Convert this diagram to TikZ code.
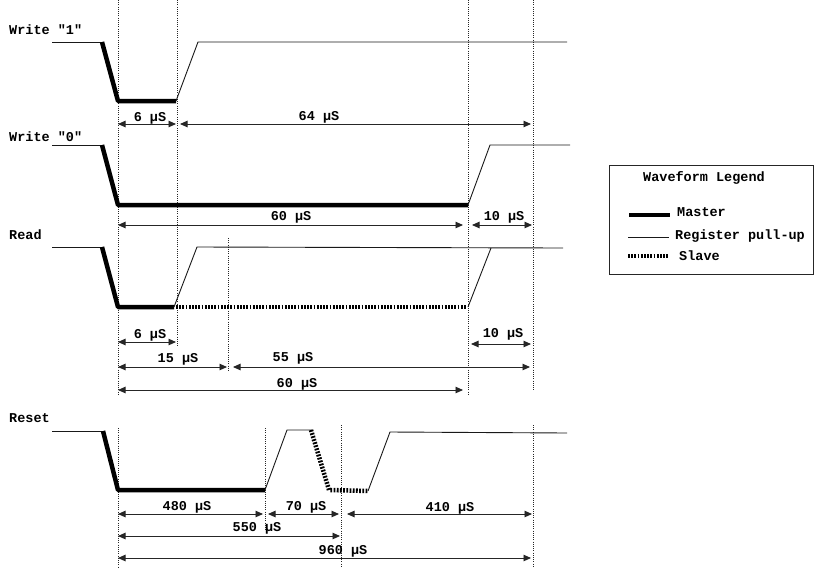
\documentclass[tikz,border=0pt]{standalone}
\usepackage{fontspec}
\setmonofont{Liberation Mono}
\usetikzlibrary{arrows.meta}
\begin{document}
\begin{tikzpicture}[x=1pt,y=-1pt,
  lbl/.style={font=\ttfamily\bfseries\fontsize{13.5}{15}\selectfont, inner sep=0pt, anchor=base},
  lblw/.style={lbl, anchor=base west},
  pullup/.style={line width=0.9pt, draw=black!90},
  master/.style={line width=4.5pt, line join=round},
  slave/.style={line width=4.5pt, dash pattern=on 1.8pt off 1.4pt},
  guide/.style={line width=0.6pt, dash pattern=on 1pt off 1.2pt, draw=black!85},
  dim/.style={line width=0.9pt, draw=black!85,
    {Triangle[length=7.5pt,width=6.5pt]}-{Triangle[length=7.5pt,width=6.5pt]}}
]
\useasboundingbox (0,0) rectangle (814,568);

% guide lines
\draw[guide] (118,0) -- (118,395);
\draw[guide] (177,0) -- (177,347);
\draw[guide] (468,0) -- (468,395);
\draw[guide] (533,0) -- (533,390);
\draw[guide] (228,238) -- (228,372);
\draw[guide] (118,428) -- (118,568);
\draw[guide] (265,428) -- (265,530);
\draw[guide] (341,425) -- (341,568);
\draw[guide] (533,425) -- (533,568);

% Write "1"
\node[lblw] (lw1) at (9,34) {Write "1"};
\draw[pullup] (52,42) -- (102,42);
\draw[master] (102,42) -- (118,101) -- (176,101);
\draw[pullup] (176,101) -- (198,42) -- (567,42);
\draw[dim] (118,124) -- (176,124);
\draw[dim] (180,124) -- (531,124);
\node[lbl] (d1) at (150,121) {6 µS};
\node[lbl] (d2) at (319,120) {64 µS};

% Write "0"
\node[lblw] (lw0) at (9,141) {Write "0"};
\draw[pullup] (52,145) -- (102,145);
\draw[master] (102,145) -- (118,205) -- (468,205);
\draw[pullup] (468,205) -- (490,145) -- (570,145);
\draw[dim] (118,225) -- (463,225);
\draw[dim] (472,225) -- (532,225);
\node[lbl] (d3) at (291,220) {60 µS};
\node[lbl] (d4) at (504,220) {10 µS};

% Read
\node[lblw] (lr) at (9,239) {Read};
\draw[pullup] (52,247) -- (102,247);
\draw[master] (102,247) -- (118,307) -- (174,307);
\draw[pullup] (174,307) -- (197,247) -- (563,248);
\draw[slave] (176,307) -- (466,307);
\draw[pullup] (468,307) -- (491,248);
\draw[dim] (118,342) -- (176,342);
\draw[dim] (471,344) -- (531,344);
\draw[dim] (118,367) -- (227,367);
\draw[dim] (233,367) -- (530,367);
\draw[dim] (118,390) -- (463,390);
\node[lbl] (d5) at (150,338) {6 µS};
\node[lbl] (d6) at (503,337) {10 µS};
\node[lbl] (d7) at (178,362) {15 µS};
\node[lbl] (d8) at (293,361) {55 µS};
\node[lbl] (d9) at (297,387) {60 µS};

% Reset
\node[lblw] (lrs) at (9,422) {Reset};
\draw[pullup] (52,431) -- (103,431);
\draw[master] (103,431) -- (118,490) -- (265,490);
\draw[pullup] (265,490) -- (287,430) -- (312,430);
\draw[slave] (311,430) -- (329,490) -- (368,491);
\draw[pullup] (368,491) -- (390,432) -- (567,433);
\draw[dim] (118,514) -- (263,514);
\draw[dim] (268,514) -- (339,514);
\draw[dim] (347,514) -- (532,514);
\draw[dim] (118,536) -- (340,536);
\draw[dim] (118,558) -- (531,558);
\node[lbl] (d10) at (187,510) {480 µS};
\node[lbl] (d11) at (306,510) {70 µS};
\node[lbl] (d12) at (450,511) {410 µS};
\node[lbl] (d13) at (257,531) {550 µS};
\node[lbl] (d14) at (343,554) {960 µS};

% Legend
\draw[line width=0.8pt, draw=black!85] (609,165) rectangle (813,274);
\node[lblw] (lg) at (643,181) {Waveform Legend};
\draw[master] (629,215) -- (670,215);
\node[lblw] (lgm) at (677,216) {Master};
\draw[pullup] (628,237) -- (669,237);
\node[lblw] (lgp) at (675,239) {Register pull-up};
\draw[slave] (628,256) -- (669,256);
\node[lblw] (lgs) at (679,260) {Slave};
\end{tikzpicture}
\end{document}
